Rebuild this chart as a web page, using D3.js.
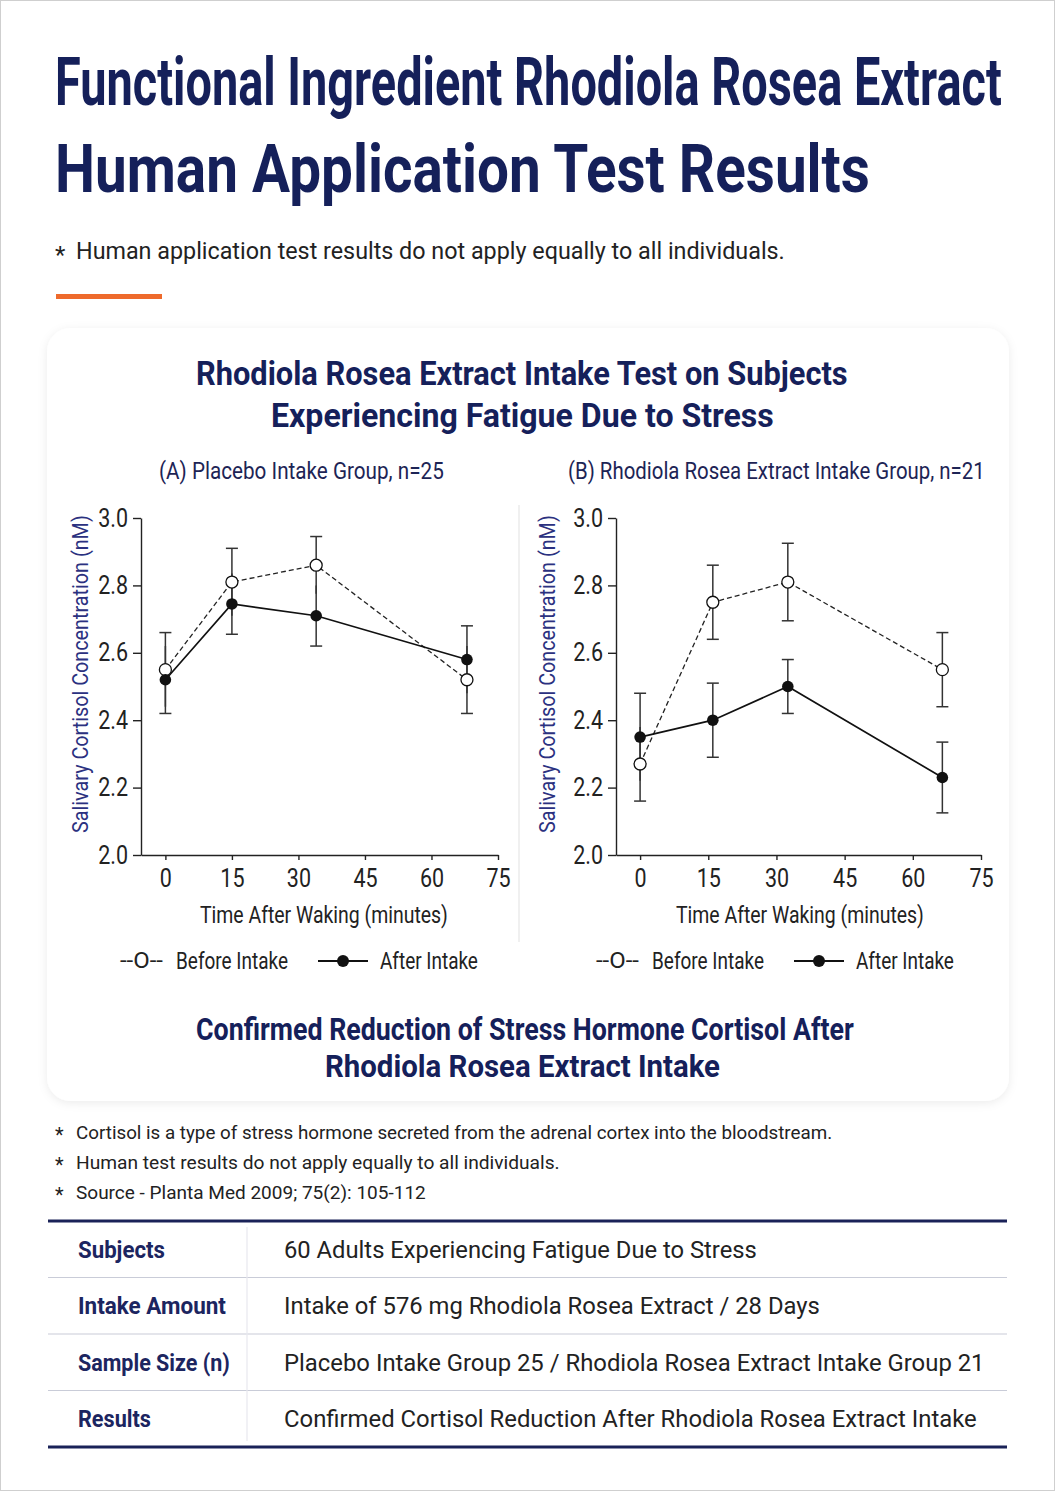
<!DOCTYPE html>
<html>
<head>
<meta charset="utf-8">
<script src="https://cdn.jsdelivr.net/npm/d3@7"></script>
<style>
  body { margin: 0; background: #fff; }
  svg { display: block; font-family: Roboto, "Noto Sans", sans-serif; }
</style>
</head>
<body>
<div id="page"></div>
<script>
// ---- data ----
const minutesA = [0, 15, 34, 68];
const beforeA = [2.55, 2.81, 2.86, 2.52];
const beforeSeA = [0.11, 0.10, 0.085, 0.10];
const afterA = [2.52, 2.745, 2.71, 2.58];
const afterSeA = [0.10, 0.09, 0.09, 0.10];

const minutesB = [0, 16, 32.5, 66.5];
const beforeB = [2.27, 2.75, 2.81, 2.55];
const beforeSeB = [0.11, 0.11, 0.115, 0.11];
const afterB = [2.35, 2.40, 2.50, 2.23];
const afterSeB = [0.13, 0.11, 0.08, 0.105];

const yTicks = [2.0, 2.2, 2.4, 2.6, 2.8, 3.0];
const xTicks = [0, 15, 30, 45, 60, 75];

const tableLabels = ["Subjects", "Intake Amount", "Sample Size (n)", "Results"];
const tableValues = [
  "60 Adults Experiencing Fatigue Due to Stress",
  "Intake of 576 mg Rhodiola Rosea Extract / 28 Days",
  "Placebo Intake Group 25 / Rhodiola Rosea Extract Intake Group 21",
  "Confirmed Cortisol Reduction After Rhodiola Rosea Extract Intake"
];
const notes = [
  "Cortisol is a type of stress hormone secreted from the adrenal cortex into the bloodstream.",
  "Human test results do not apply equally to all individuals.",
  "Source - Planta Med 2009; 75(2): 105-112"
];

const NAVY = "#15205a";
const W = 1055, H = 1491;

const svg = d3.select("#page").append("svg")
  .attr("width", W).attr("height", H);

// text helper: squeezes the string horizontally to a measured width
function txt(g, s, x, y, o) {
  const t = g.append("text")
    .attr("x", 0).attr("y", 0)
    .attr("font-size", o.size)
    .attr("font-weight", o.weight || 400)
    .attr("fill", o.fill || "#222")
    .text(s);
  let k = 1;
  if (o.len) k = o.len / t.node().getComputedTextLength();
  t.attr("transform", `translate(${x},${y}) rotate(${o.rot || 0}) scale(${k},1)`);
  return t;
}

// frame + card shadow
const defs = svg.append("defs");
const f = defs.append("filter").attr("id", "shadow")
  .attr("x", "-5%").attr("y", "-5%").attr("width", "110%").attr("height", "110%");
f.append("feDropShadow").attr("dx", 0).attr("dy", 2).attr("stdDeviation", 5)
  .attr("flood-color", "#000").attr("flood-opacity", 0.08);

svg.append("rect").attr("x", 0.5).attr("y", 0.5).attr("width", W - 1).attr("height", H - 1)
  .attr("fill", "#fff").attr("stroke", "#cfcfcf");

// ---- header ----
txt(svg, "Functional Ingredient Rhodiola Rosea Extract", 55, 105, { size: 67, weight: 700, fill: NAVY, len: 947 });
txt(svg, "Human Application Test Results", 55, 192, { size: 67, weight: 700, fill: NAVY, len: 815 });
txt(svg, "*", 55, 263, { size: 24, fill: "#222" });
txt(svg, "Human application test results do not apply equally to all individuals.", 76, 259, { size: 24, fill: "#222", len: 709 });
svg.append("rect").attr("x", 56).attr("y", 294).attr("width", 106).attr("height", 5).attr("fill", "#ee6a2c");

// ---- card ----
svg.append("rect").attr("x", 47).attr("y", 328).attr("width", 962).attr("height", 773)
  .attr("rx", 24).attr("fill", "#fff").attr("filter", "url(#shadow)");

txt(svg, "Rhodiola Rosea Extract Intake Test on Subjects", 196, 385, { size: 33, weight: 700, fill: NAVY, len: 652 });
txt(svg, "Experiencing Fatigue Due to Stress", 271, 427, { size: 33, weight: 700, fill: NAVY, len: 503 });

svg.append("line").attr("x1", 519).attr("x2", 519).attr("y1", 505).attr("y2", 942)
  .attr("stroke", "#e6e6e6").attr("stroke-width", 1.2);

const panels = [
  { title: "(A) Placebo Intake Group, n=25", tx: 159, tlen: 285,
    minutes: minutesA, before: beforeA, beforeSe: beforeSeA, after: afterA, afterSe: afterSeA,
    left: 141, right: 498, xmin: -5.5, ylabX: 80, xtitleX: 200, legX: 120 },
  { title: "(B) Rhodiola Rosea Extract Intake Group, n=21", tx: 568, tlen: 417,
    minutes: minutesB, before: beforeB, beforeSe: beforeSeB, after: afterB, afterSe: afterSeB,
    left: 616, right: 981, xmin: -5.3, ylabX: 547, xtitleX: 676, legX: 596 }
];

const plotTop = 518, plotBottom = 855;
const y = d3.scaleLinear().domain([2.0, 3.0]).range([plotBottom, plotTop]);

panels.forEach(p => {
  const g = svg.append("g");
  const x = d3.scaleLinear().domain([p.xmin, 75]).range([p.left, p.right]);

  txt(g, p.title, p.tx, 479, { size: 24, fill: "#1d2455", len: p.tlen });

  // axes
  const ya = g.append("g").attr("transform", `translate(${p.left},0)`)
    .call(d3.axisLeft(y).tickValues(yTicks).tickFormat(d3.format(".1f")).tickSize(8).tickPadding(5).tickSizeOuter(0));
  const xa = g.append("g").attr("transform", `translate(0,${plotBottom})`)
    .call(d3.axisBottom(x).tickValues(xTicks).tickSize(5).tickPadding(9).tickSizeOuter(0));
  [ya, xa].forEach(a => {
    a.select(".domain").attr("stroke", "#222").attr("stroke-width", 1.4);
    a.selectAll(".tick line").attr("stroke", "#222").attr("stroke-width", 1.4);
    a.selectAll(".tick text").attr("font-size", 25).attr("fill", "#222")
      .attr("font-family", "Roboto, sans-serif")
      .attr("transform", "scale(0.86,1)");
  });
  ya.selectAll(".tick text").attr("x", -13 / 0.86);

  // axis titles
  txt(g, "Salivary Cortisol Concentration (nM)", p.ylabX + 8, 833, { size: 22, fill: "#2b3180", len: 318, rot: -90 });
  txt(g, "Time After Waking (minutes)", p.xtitleX, 923, { size: 24, fill: "#222", len: 248 });

  const before = p.minutes.map((m, i) => ({ m, v: p.before[i], se: p.beforeSe[i] }));
  const after = p.minutes.map((m, i) => ({ m, v: p.after[i], se: p.afterSe[i] }));
  const line = d3.line().x(d => x(d.m)).y(d => y(d.v));

  g.append("path").datum(before).attr("d", line).attr("fill", "none")
    .attr("stroke", "#222").attr("stroke-width", 1.3).attr("stroke-dasharray", "5,3");
  g.append("path").datum(after).attr("d", line).attr("fill", "none")
    .attr("stroke", "#111").attr("stroke-width", 1.7);

  // error bars; a cap that falls inside the other group's bar is left out
  [[before, after], [after, before]].forEach(([series, other]) => {
    const eb = g.append("g").attr("stroke", "#333").attr("stroke-width", 1.5);
    eb.selectAll(".bar").data(series).join("line")
      .attr("x1", d => x(d.m)).attr("x2", d => x(d.m))
      .attr("y1", d => y(d.v - d.se)).attr("y2", d => y(d.v + d.se));
    const caps = [];
    series.forEach((d, i) => {
      const o = other[i];
      [d.v + d.se, d.v - d.se].forEach(c => {
        if (!(c > o.v - o.se && c < o.v + o.se)) caps.push({ m: d.m, c });
      });
    });
    eb.selectAll(".cap").data(caps).join("line")
      .attr("x1", d => x(d.m) - 6).attr("x2", d => x(d.m) + 6)
      .attr("y1", d => y(d.c)).attr("y2", d => y(d.c));
  });

  g.selectAll(".open").data(before).join("circle")
    .attr("cx", d => x(d.m)).attr("cy", d => y(d.v)).attr("r", 6)
    .attr("fill", "#fff").attr("stroke", "#111").attr("stroke-width", 1.3);
  g.selectAll(".filled").data(after).join("circle")
    .attr("cx", d => x(d.m)).attr("cy", d => y(d.v)).attr("r", 5.8)
    .attr("fill", "#111");

  // legend
  const lx = p.legX;
  txt(g, "--O--", lx, 968, { size: 22, fill: "#222", len: 43 });
  txt(g, "Before Intake", lx + 56, 969, { size: 24, fill: "#222", len: 112 });
  g.append("line").attr("x1", lx + 198).attr("x2", lx + 248).attr("y1", 961).attr("y2", 961)
    .attr("stroke", "#111").attr("stroke-width", 2);
  g.append("circle").attr("cx", lx + 223).attr("cy", 961).attr("r", 6).attr("fill", "#111");
  txt(g, "After Intake", lx + 260, 969, { size: 24, fill: "#222", len: 98 });
});

txt(svg, "Confirmed Reduction of Stress Hormone Cortisol After", 196, 1040, { size: 32, weight: 700, fill: NAVY, len: 658 });
txt(svg, "Rhodiola Rosea Extract Intake", 325, 1077, { size: 32, weight: 700, fill: NAVY, len: 395 });

// ---- notes ----
const noteLens = [757, 484, 350];
notes.forEach((n, i) => {
  const yy = 1139 + i * 30;
  txt(svg, "*", 55, yy + 3, { size: 20, fill: "#222" });
  txt(svg, n, 76, yy, { size: 18.5, fill: "#222", len: noteLens[i] });
});

// ---- table ----
const rowTop = 1221, rowH = 56.5;
const labelLens = [87, 148, 152, 73];
const valueLens = [473, 536, 701, 693];
const tg = svg.append("g");
tableLabels.forEach((l, i) => {
  const cy = rowTop + rowH * i + rowH / 2;
  txt(tg, l, 78, cy + 8.5, { size: 23.5, weight: 700, fill: "#1c2560", len: labelLens[i] });
  txt(tg, tableValues[i], 284, cy + 8.5, { size: 23.5, fill: "#222", len: valueLens[i] });
  if (i > 0) {
    tg.append("line").attr("x1", 48).attr("x2", 1007)
      .attr("y1", rowTop + rowH * i).attr("y2", rowTop + rowH * i)
      .attr("stroke", "#c9ccd8").attr("stroke-width", 1.2);
  }
});
tg.append("line").attr("x1", 247).attr("x2", 247).attr("y1", rowTop + 6).attr("y2", rowTop + rowH * 4 - 6)
  .attr("stroke", "#e8e8ee").attr("stroke-width", 1.2);
[rowTop, rowTop + rowH * 4].forEach(yy => {
  tg.append("line").attr("x1", 48).attr("x2", 1007).attr("y1", yy).attr("y2", yy)
    .attr("stroke", "#1a2258").attr("stroke-width", 3);
});
</script>
</body>
</html>
